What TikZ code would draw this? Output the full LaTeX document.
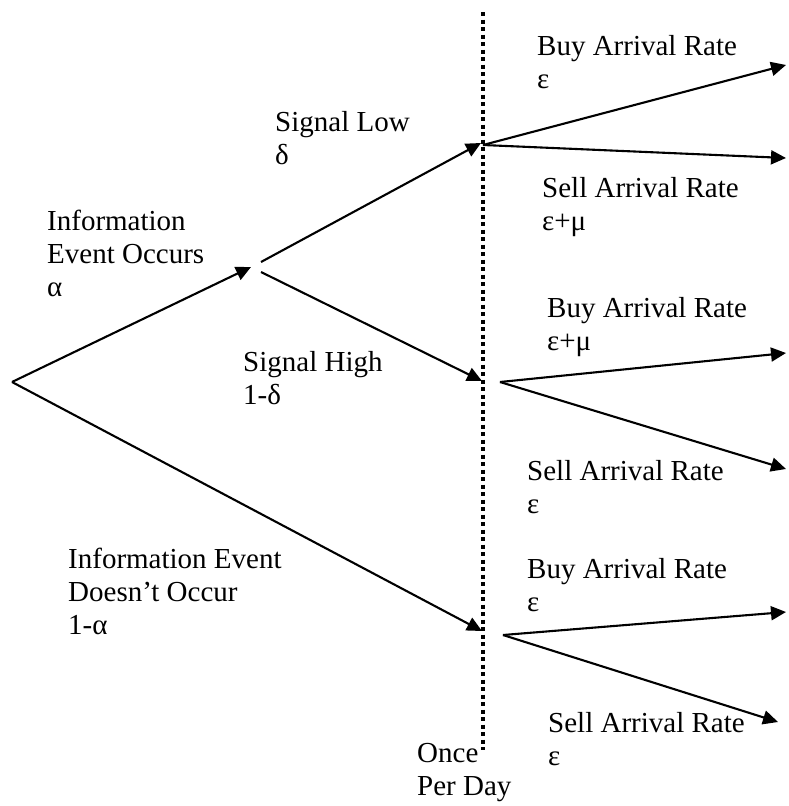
\documentclass[tikz,border=0pt]{standalone}
\usepackage{fontspec}
\setmainfont{Liberation Serif}
\usetikzlibrary{arrows.meta}

\begin{document}
\begin{tikzpicture}[x=1pt, y=-1pt,
    branch/.style = {draw, line width=2.1pt,
      -{Triangle[length=15pt, width=14pt]}},
    lbl/.style = {anchor=base west, inner sep=0pt, align=left,
      font=\fontsize{29}{33}\selectfont},
    daymark/.style = {line width=4pt, dash pattern=on 4pt off 3.5pt}]
    \useasboundingbox (0,0) rectangle (789,806);

    % the once-per-day line
    \coordinate (dayTop) at (483,12);
    \coordinate (dayEnd) at (483,750);
    \draw[daymark] (dayTop) -- (dayEnd);

    % tree points
    \coordinate (root) at (12,382);
    \coordinate (infoTip) at (251,267);
    \coordinate (lowStart) at (261,262);
    \coordinate (highStart) at (261,272);
    \coordinate (lowTip) at (481,143);
    \coordinate (lowNode) at (483,145);
    \coordinate (highTip) at (482,381);
    \coordinate (highNode) at (500,382);
    \coordinate (noTip) at (482,631);
    \coordinate (noNode) at (503,635);
    \coordinate (buyEndA) at (786,65);
    \coordinate (sellEndA) at (786,158);
    \coordinate (buyEndB) at (786,353);
    \coordinate (sellEndB) at (786,469);
    \coordinate (buyEndC) at (786,612);
    \coordinate (sellEndC) at (778,722);

    \draw[branch] (root) -- (infoTip);
    \draw[branch] (root) -- (noTip);
    \draw[branch] (lowStart) -- (lowTip);
    \draw[branch] (highStart) -- (highTip);
    \draw[branch] (lowNode) -- (buyEndA);
    \draw[branch] (lowNode) -- (sellEndA);
    \draw[branch] (highNode) -- (buyEndB);
    \draw[branch] (highNode) -- (sellEndB);
    \draw[branch] (noNode) -- (buyEndC);
    \draw[branch] (noNode) -- (sellEndC);

    % labels (placed at the baseline of their last line)
    \node[lbl] (infoLbl) at (47,296) {Information\\Event Occurs\\α};
    \node[lbl] (lowLbl) at (275,164) {Signal Low\\δ};
    \node[lbl] (highLbl) at (243,404) {Signal High\\1-δ};
    \node[lbl] (noLbl) at (68,634) {Information Event\\Doesn’t Occur\\1-α};
    \node[lbl] (buyLblA) at (537,88) {Buy Arrival Rate\\ε};
    \node[lbl] (sellLblA) at (542,230) {Sell Arrival Rate\\ε+μ};
    \node[lbl] (buyLblB) at (547,350) {Buy Arrival Rate\\ε+μ};
    \node[lbl] (sellLblB) at (527,513) {Sell Arrival Rate\\ε};
    \node[lbl] (buyLblC) at (527,611) {Buy Arrival Rate\\ε};
    \node[lbl] (sellLblC) at (548,765) {Sell Arrival Rate\\ε};
    \node[lbl] (dayLbl) at (417,795) {Once\\Per Day};
\end{tikzpicture}
\end{document}
